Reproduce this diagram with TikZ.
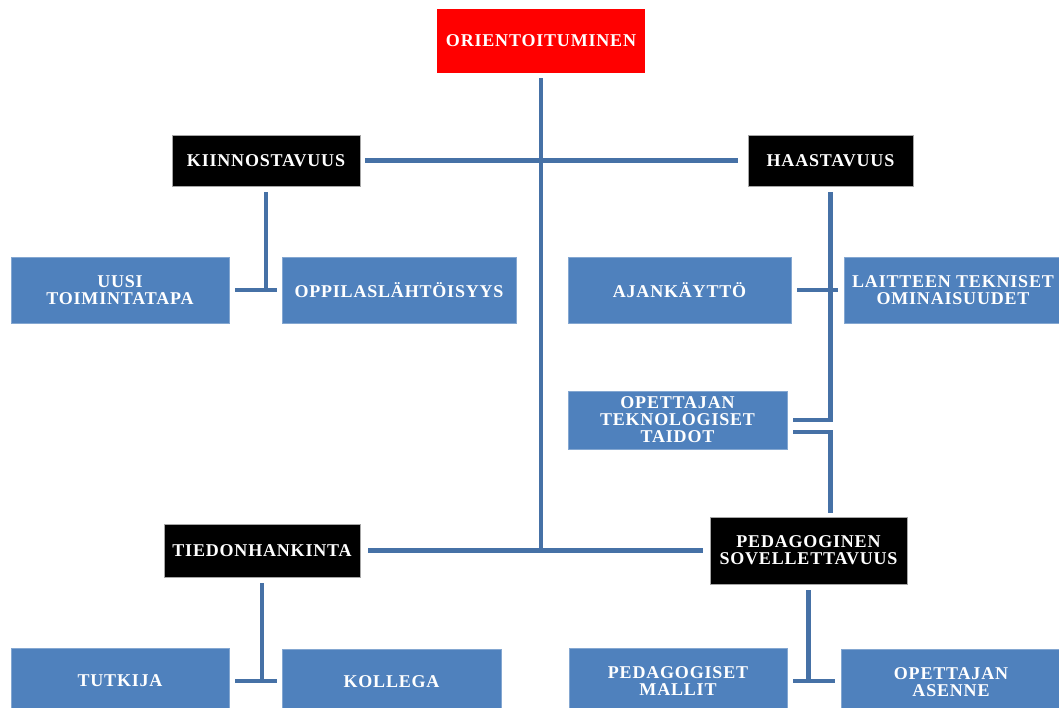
\documentclass[tikz,border=0pt]{standalone}
\usepackage{fontspec}
\setmainfont{Liberation Serif}
\newfontfamily\labelfont[LetterSpace=4.5]{Liberation Serif}
\begin{document}
\begin{tikzpicture}[x=1pt,y=-1pt,
  box/.style={rectangle, inner sep=0pt, align=center, text=white,
    font=\labelfont\bfseries\fontsize{18}{17}\selectfont},
  bluebox/.style={box, fill=boxblue, draw=boxblue!70!white, line width=0.6pt},
  blackbox/.style={box, fill=black, draw=gray!70, line width=0.6pt},
  redbox/.style={box, fill=red},
  conn/.style={draw=lineblue, line width=4.5pt}]
\definecolor{boxblue}{RGB}{79,129,189}
\definecolor{lineblue}{RGB}{70,113,166}
\useasboundingbox (0,0) rectangle (1059,708);
\clip (0,0) rectangle (1059,708);

% top level
\node[redbox, minimum width=208pt, minimum height=64pt] (ori) at (541,41) {ORIENTOITUMINEN};

% main categories
\node[blackbox, minimum width=188pt, minimum height=51pt] (kiin) at (266,160.5) {KIINNOSTAVUUS};
\node[blackbox, minimum width=165pt, minimum height=51pt] (haas) at (830.5,160.5) {HAASTAVUUS};
\node[blackbox, minimum width=196pt, minimum height=53pt] (tied) at (262,550.5) {TIEDONHANKINTA};
\node[blackbox, minimum width=197pt, minimum height=67pt] (peda) at (808.5,550.5) {PEDAGOGINEN\\SOVELLETTAVUUS};

% sub items
\node[bluebox, minimum width=218pt, minimum height=66pt] (uusi) at (120,290) {UUSI\\TOIMINTATAPA};
\node[bluebox, minimum width=234pt, minimum height=66pt] (oppi) at (399,290) {OPPILASLÄHTÖISYYS};
\node[bluebox, minimum width=223pt, minimum height=66pt] (ajan) at (679.5,290) {AJANKÄYTTÖ};
\node[bluebox, minimum width=218pt, minimum height=66pt] (lait) at (953,290) {LAITTEEN TEKNISET\\OMINAISUUDET};
\node[bluebox, minimum width=219pt, minimum height=58pt] (opet) at (677.5,420) {OPETTAJAN\\TEKNOLOGISET\\TAIDOT};
\node[bluebox, minimum width=218pt, minimum height=66pt] (tutk) at (120,681) {TUTKIJA};
\node[bluebox, minimum width=219pt, minimum height=66pt] (koll) at (391.5,682) {KOLLEGA};
\node[bluebox, minimum width=218pt, minimum height=66pt] (pedm) at (678,681) {PEDAGOGISET\\MALLIT};
\node[bluebox, minimum width=220pt, minimum height=66pt] (ases) at (951,682) {OPETTAJAN\\ASENNE};

% spine and cross links
\draw[conn] ([yshift=-5pt]ori.south) -- (ori.south |- tied.east);
\draw[conn] ([xshift=5pt]kiin.east) -- ([xshift=-10pt]haas.west);
\draw[conn] ([xshift=8pt]tied.east) -- ([xshift=-7pt]peda.west);

% KIINNOSTAVUUS branch
\draw[conn] ([yshift=-6pt]kiin.south) -- (kiin.south |- uusi.east);
\draw[conn] ([xshift=6pt]uusi.east) -- ([xshift=-5pt]oppi.west);

% HAASTAVUUS branch
\draw[conn] ([yshift=-6pt]haas.south) |- ([xshift=6pt]opet.east);
\draw[conn] ([xshift=6pt]ajan.east) -- ([xshift=-6pt]lait.west);
\draw[conn] ([xshift=6pt,yshift=-12pt]opet.east) -| ([yshift=4pt]peda.north -| haas.south);

% TIEDONHANKINTA branch
\draw[conn] ([yshift=-6pt]tied.south) -- (tied.south |- tutk.east);
\draw[conn] ([xshift=6pt]tutk.east) -- ([xshift=-5pt]koll.west |- tutk.east);

% PEDAGOGINEN SOVELLETTAVUUS branch
\draw[conn] ([yshift=-6pt]peda.south) -- (peda.south |- pedm.east);
\draw[conn] ([xshift=6pt]pedm.east) -- ([xshift=-6pt]ases.west |- pedm.east);
\end{tikzpicture}
\end{document}
